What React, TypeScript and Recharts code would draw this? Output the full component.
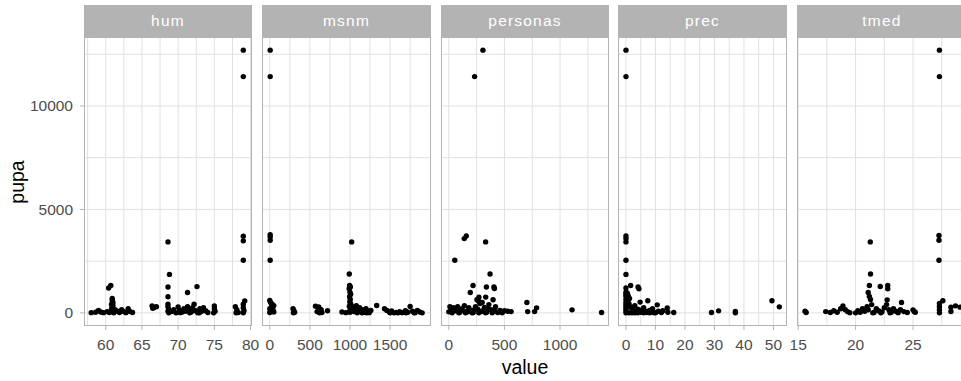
import { ScatterChart, Scatter, XAxis, YAxis, CartesianGrid } from "recharts"

type Pt = [number, number]

const FONT = "'Liberation Sans', Arial, sans-serif"

// pupa (y) against each variable (x)
const humPoints: Pt[] = [
  [79.0, 12700], [79.0, 11420], [79.0, 3700], [79.0, 3480], [68.6, 3430], [79.0, 2540],
  [68.8, 1860], [60.7, 1325], [60.4, 1200], [72.6, 1270], [68.6, 1250], [71.3, 985],
  [68.6, 780], [79.2, 580],
  [60.9, 700], [60.9, 600], [61.0, 500], [60.8, 420], [61.0, 350], [60.9, 280], [60.8, 200],
  [61.0, 120], [60.9, 50], [61.1, 0],
  [58.0, 10], [58.6, 30], [59.0, 120], [59.3, 40], [59.7, 10], [60.2, 60], [60.5, 20],
  [61.3, 150], [61.6, 80], [61.9, 20], [62.2, 150], [62.5, 60], [62.8, 10], [63.1, 200],
  [63.3, 80], [63.7, 20],
  [66.4, 340], [66.7, 260], [67.0, 300], [66.5, 220],
  [68.6, 420], [68.6, 300], [68.7, 180], [68.6, 80], [68.7, 0],
  [69.1, 60], [69.4, 150], [69.7, 0], [70.0, 280], [70.2, 120], [70.5, 30], [70.8, 200],
  [71.0, 80], [71.3, 300], [71.5, 150], [71.8, 40], [72.0, 250], [72.2, 420], [72.4, 100],
  [72.7, 10], [73.0, 200], [73.2, 60], [73.5, 250], [73.8, 100], [74.1, 20], [70.3, 10],
  [71.6, 0], [72.9, 0],
  [75.0, 330], [75.0, 200], [75.1, 80], [74.9, 0],
  [77.9, 300], [78.1, 150], [78.3, 20], [78.0, 0],
  [79.0, 420], [79.0, 250], [79.1, 100], [79.0, 0],
]

const msnmPoints: Pt[] = [
  [5, 12700], [5, 11420], [5, 3780], [5, 3670], [5, 3510], [5, 2540], [1021, 3430],
  [991, 1880], [995, 1320], [1005, 1250], [990, 1170], [1000, 1000], [1008, 900], [995, 780],
  [1003, 650], [998, 530], [1010, 420], [992, 320], [1005, 220], [1000, 120], [1000, 30],
  [0, 600], [10, 500], [30, 420], [50, 350], [20, 280], [0, 200], [40, 150], [15, 80],
  [0, 20], [50, 40],
  [290, 200], [300, 110], [310, 30], [295, 0],
  [570, 320], [610, 280], [640, 150], [590, 60], [650, 20], [620, 0], [720, 100],
  [900, 40], [950, 10], [1030, 300], [1060, 200], [1080, 350], [1100, 100], [1120, 250],
  [1140, 50], [1160, 150], [1180, 30], [1200, 200], [1220, 80], [1240, 10], [1260, 120],
  [1050, 60], [1090, 0], [1150, 0], [1210, 0], [1333, 355],
  [1430, 200], [1460, 120], [1490, 50], [1520, 90], [1550, 0], [1580, 20], [1620, 60],
  [1650, 10], [1690, 100], [1720, 30], [1750, 310], [1780, 80], [1810, 10], [1840, 120],
  [1870, 40], [1900, 0], [1500, 0], [1600, 0], [1700, 0], [1800, 0],
]

const personasPoints: Pt[] = [
  [307, 12700], [232, 11420], [157, 3720], [139, 3590], [331, 3430], [54, 2540], [371, 1878],
  [218, 1325], [338, 1247], [406, 1250], [410, 1180], [193, 985], [332, 762], [398, 631],
  [253, 631], [271, 762], [702, 500], [789, 243], [709, 60], [771, 60], [1108, 146], [1373, 15],
  [0, 50], [20, 150], [40, 250], [60, 100], [80, 300], [100, 30], [120, 200], [140, 350],
  [160, 80], [180, 250], [200, 120], [220, 20], [240, 300], [260, 180], [280, 450], [300, 90],
  [320, 260], [340, 30], [360, 400], [380, 150], [400, 60], [420, 300], [440, 20], [460, 120],
  [500, 100], [530, 80], [560, 60], [30, 0], [90, 0], [150, 0], [210, 0], [270, 0], [330, 0],
  [390, 0], [480, 0], [10, 300], [70, 220], [110, 120], [170, 50], [230, 150], [290, 60],
  [350, 200], [410, 100], [270, 560], [300, 500],
]

const precPoints: Pt[] = [
  [0, 12700], [0, 11420], [0, 3720], [0, 3590], [0, 3430], [0, 2540], [0, 1860], [1.6, 1325],
  [4.1, 1250], [4.4, 1165], [0, 1200], [0, 1000], [0, 900], [7.4, 583], [4.8, 520],
  [10.6, 388], [14, 240], [14.2, 30], [16.2, 15], [29, 15], [31.4, 97], [37.1, 65], [37.1, 0],
  [49.5, 583], [52, 291],
  [0, 800], [0, 650], [0, 500], [0, 400], [0, 300], [0, 200], [0, 100], [0, 0],
  [0.5, 600], [1, 450], [1.5, 300], [2, 200], [2.5, 120], [3, 350], [3.5, 60], [4, 180],
  [5, 30], [5.5, 150], [6, 250], [6.5, 80], [7, 20], [8, 120], [8.5, 40], [9, 200], [9.5, 10],
  [11, 80], [12, 20], [12.5, 100], [1, 0], [2, 0], [3, 0], [4, 0], [6, 0], [8, 0], [10, 0],
  [0.8, 800], [1.2, 700], [0.5, 950],
]

const tmedPoints: Pt[] = [
  [27.3, 12700], [27.3, 11420], [27.26, 3740], [27.26, 3510], [21.28, 3430], [27.26, 2540],
  [21.3, 1878], [21.2, 1325], [22.15, 1277], [22.8, 1325], [22.8, 1165], [21.1, 985],
  [21.2, 790], [21.3, 650], [22.75, 630], [24, 500], [27.6, 583], [27.3, 450], [27.3, 300],
  [27.3, 150], [27.3, 0], [28.3, 276], [28.3, 63], [28.7, 340], [29.1, 276], [25, 146],
  [25.2, 30],
  [15.7, 15], [15.6, 80], [17.4, 60], [17.8, 20], [18.1, 100], [18.4, 30], [18.7, 200],
  [18.9, 340], [19.1, 150], [19.3, 60], [19.5, 10], [20.2, 100], [20.4, 30], [20.6, 200],
  [20.8, 80], [21.0, 300], [21.1, 150], [21.4, 400], [21.6, 20], [21.8, 200], [22.0, 100],
  [22.3, 50], [22.5, 250], [22.7, 400], [22.9, 150], [23.1, 30], [23.3, 200], [23.5, 80],
  [23.7, 10], [23.9, 150], [24.2, 60], [20.0, 0], [21.5, 0], [22.2, 0], [23.0, 0],
  [24.5, 20], [25.1, 60],
]

const yDomain: [number, number] = [-635, 13335]
const yTicks = [0, 5000, 10000]
const yMinor = [2500, 7500, 12500]

interface Facet {
  name: string
  points: Pt[]
  domain: [number, number]
  ticks: number[]
  minor: number[]
  left: number
  width: number
}

const facets: Facet[] = [
  { name: "hum", points: humPoints, domain: [57.0, 80.2], ticks: [60, 65, 70, 75, 80], minor: [57.5, 62.5, 67.5, 72.5, 77.5], left: 84, width: 168 },
  { name: "msnm", points: msnmPoints, domain: [-97, 2010], ticks: [0, 500, 1000, 1500], minor: [250, 750, 1250, 1750], left: 262, width: 169 },
  { name: "personas", points: personasPoints, domain: [-70, 1440], ticks: [0, 500, 1000], minor: [250, 750, 1250], left: 441, width: 168 },
  { name: "prec", points: precPoints, domain: [-2.7, 54.6], ticks: [0, 10, 20, 30, 40, 50], minor: [5, 15, 25, 35, 45], left: 618, width: 169 },
  { name: "tmed", points: tmedPoints, domain: [14.9, 29.7], ticks: [15, 20, 25], minor: [17.5, 22.5, 27.5], left: 797, width: 170 },
]

const PANEL_TOP = 37
const PANEL_H = 289
const Y_AXIS_W = 84
const PAD = 14 // room so edge tick labels are not clipped

const Dot = (props: any) => <circle cx={props.cx} cy={props.cy} r={2.7} fill="#000" />

function Panel({ f, showY }: { f: Facet; showY: boolean }) {
  const data = f.points.map(([x, y]) => ({ x, y }))
  const padL = showY ? 0 : PAD
  const w = f.width + (showY ? Y_AXIS_W : PAD) + PAD
  return (
    <>
      <div
        style={{
          position: "absolute",
          left: f.left,
          top: 5,
          width: f.width,
          height: PANEL_TOP - 5,
          background: "#B3B3B3",
          color: "#fff",
          fontFamily: FONT,
          fontSize: 15.5,
          letterSpacing: 1.2,
          display: "flex",
          alignItems: "center",
          justifyContent: "center",
        }}
      >
        {f.name}
      </div>
      <div style={{ position: "absolute", left: showY ? 0 : f.left - PAD, top: PANEL_TOP }}>
        <ScatterChart width={w} height={PANEL_H + 40} margin={{ top: 0, right: PAD, bottom: 0, left: padL }}>
          <CartesianGrid
            stroke="#E0E0E0"
            strokeWidth={1}
            verticalValues={[...f.ticks, ...f.minor]}
            horizontalValues={[...yTicks, ...yMinor]}
          />
          <XAxis
            type="number"
            dataKey="x"
            domain={f.domain}
            ticks={f.ticks}
            allowDataOverflow
            height={40}
            axisLine={false}
            tickLine={{ stroke: "#B3B3B3" }}
            tickSize={4}
            tickMargin={9}
            interval={0}
            tick={{ fontSize: 15.5, fill: "#4D4D4D", fontFamily: FONT }}
          />
          <YAxis
            type="number"
            dataKey="y"
            domain={yDomain}
            ticks={yTicks}
            allowDataOverflow
            hide={!showY}
            width={showY ? Y_AXIS_W : 0}
            axisLine={false}
            tickLine={{ stroke: "#B3B3B3" }}
            tickSize={4}
            tickMargin={7}
            interval={0}
            tick={{ fontSize: 15.5, fill: "#4D4D4D", fontFamily: FONT }}
          />
          <Scatter data={data} shape={Dot} isAnimationActive={false} />
        </ScatterChart>
      </div>
      <div
        style={{
          position: "absolute",
          left: f.left,
          top: PANEL_TOP,
          width: f.width,
          height: PANEL_H,
          border: "1px solid #B3B3B3",
          boxSizing: "border-box",
          pointerEvents: "none",
        }}
      />
    </>
  )
}

export default function App() {
  return (
    <div
      style={{
        position: "absolute",
        left: 0,
        top: 0,
        width: 961,
        height: 381,
        overflow: "hidden",
        background: "#fff",
      }}
    >
      {facets.map((f, i) => (
        <Panel key={f.name} f={f} showY={i === 0} />
      ))}
      <div
        style={{
          position: "absolute",
          left: 17,
          top: PANEL_TOP + PANEL_H / 2,
          transform: "translate(-50%, -50%) rotate(-90deg)",
          fontFamily: FONT,
          fontSize: 19.5,
          color: "#000",
          whiteSpace: "nowrap",
        }}
      >
        pupa
      </div>
      <div
        style={{
          position: "absolute",
          left: 525,
          top: 367,
          transform: "translate(-50%, -50%)",
          fontFamily: FONT,
          fontSize: 19.5,
          color: "#000",
        }}
      >
        value
      </div>
    </div>
  )
}
